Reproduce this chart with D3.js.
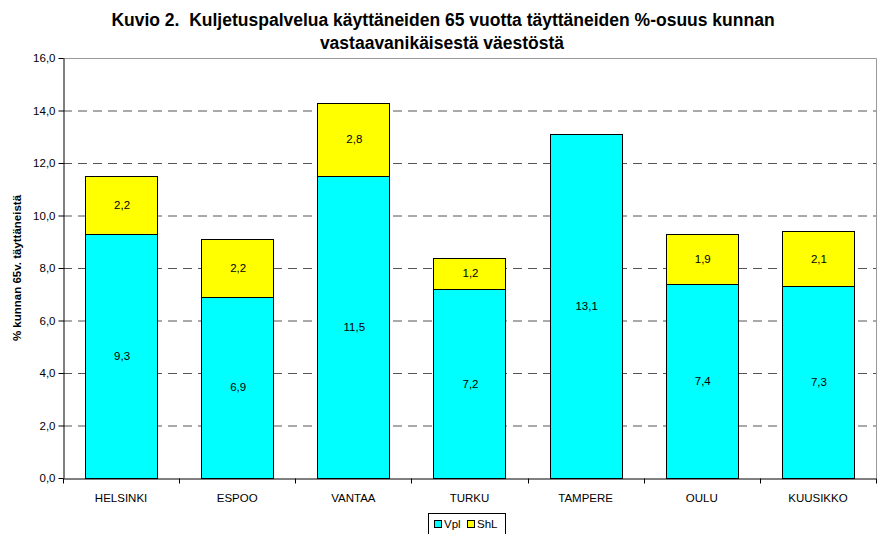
<!DOCTYPE html>
<meta charset="utf-8">
<head>
  <title>Kuvio 2</title>
  <style>
    body { margin: 0; background: #fff; font-family: Arial, "Liberation Sans", sans-serif; }
    svg text { fill: #000; }
  </style>
  <script src="https://d3js.org/d3.v7.min.js"></script>
</head>
<body>
<svg id="chart" width="882" height="534"></svg>
<script>
var cities = ["HELSINKI", "ESPOO", "VANTAA", "TURKU", "TAMPERE", "OULU", "KUUSIKKO"];
var vpl = [9.3, 6.9, 11.5, 7.2, 13.1, 7.4, 7.3];
var shl = [2.2, 2.2, 2.8, 1.2, 0, 1.9, 2.1];
var seriesNames = ["Vpl", "ShL"];
var seriesColors = ["#00ffff", "#ffff00"];
var yTicks = [0, 2, 4, 6, 8, 10, 12, 14, 16];

var svg = d3.select("#chart");
var pLeft = 63, pRight = 876, pTop = 58, pBottom = 478;
var fmt = function(d) { return d.toFixed(1).replace(".", ","); };

var x = d3.scaleBand().domain(cities).range([pLeft, pRight]).paddingInner(0.38).paddingOuter(0.19);
var y = d3.scaleLinear().domain([0, 16]).range([pBottom, pTop]);

// title
svg.append("text").attr("x", 443).attr("y", 26).attr("text-anchor", "middle")
  .style("font-size", "17.5px").style("font-weight", "bold").style("white-space", "pre")
  .text("Kuvio 2.  Kuljetuspalvelua käyttäneiden 65 vuotta täyttäneiden %-osuus kunnan");
svg.append("text").attr("x", 442).attr("y", 49).attr("text-anchor", "middle")
  .style("font-size", "17.5px").style("font-weight", "bold")
  .text("vastaavanikäisestä väestöstä");

// gridlines
svg.append("g").selectAll("line").data(yTicks.filter(function(d) { return d > 0 && d < 16; }))
  .enter().append("line")
  .attr("x1", pLeft).attr("x2", pRight)
  .attr("y1", function(d) { return y(d) + 0.5; }).attr("y2", function(d) { return y(d) + 0.5; })
  .attr("stroke", "#555").attr("stroke-dasharray", "9,6");

// plot border (top and right)
svg.append("path")
  .attr("d", "M" + pLeft + "," + (pTop + 0.5) + "H" + (pRight + 0.5) + "V" + pBottom)
  .attr("fill", "none").attr("stroke", "#999");

// stacked bars
var stacked = d3.stack().keys([0, 1]).value(function(d, k) { return d[k]; })(
  cities.map(function(c, i) { return [vpl[i], shl[i]]; }));

stacked.forEach(function(layer, k) {
  var g = svg.append("g");
  layer.forEach(function(seg, i) {
    if (seg[1] - seg[0] <= 0) return;
    g.append("rect")
      .attr("x", Math.round(x(cities[i])) + 0.5)
      .attr("y", Math.round(y(seg[1])) + 0.5)
      .attr("width", Math.round(x.bandwidth()))
      .attr("height", Math.round(y(seg[0])) - Math.round(y(seg[1])))
      .attr("fill", seriesColors[k]).attr("stroke", "#000").attr("stroke-width", 1);
    g.append("text")
      .attr("x", x(cities[i]) + x.bandwidth() / 2 + 1)
      .attr("y", (y(seg[0]) + y(seg[1])) / 2 + 4)
      .attr("text-anchor", "middle").style("font-size", "11.5px")
      .text(fmt(seg[1] - seg[0]));
  });
});

// y axis
var yAxis = svg.append("g").attr("transform", "translate(" + (pLeft + 0.5) + ",0)")
  .call(d3.axisLeft(y).tickValues(yTicks).tickFormat(fmt).tickSize(5).tickSizeOuter(0));
yAxis.select(".domain").attr("stroke", "#000");
yAxis.selectAll("text").style("font-size", "11.5px").style("font-family", "Arial, 'Liberation Sans', sans-serif").attr("x", -8);

// x axis
var xAxis = svg.append("g").attr("transform", "translate(0," + (pBottom + 0.5) + ")")
  .call(d3.axisBottom(x).tickSize(0).tickSizeOuter(0));
xAxis.select(".domain").attr("stroke", "#000");
xAxis.selectAll("text").attr("dy", null).attr("y", 23)
  .style("font-size", "11.5px").style("font-family", "Arial, 'Liberation Sans', sans-serif");
xAxis.selectAll(".sep").data(d3.range(cities.length + 1)).enter().append("line")
  .attr("x1", function(i) { return Math.round(pLeft + i * (pRight - pLeft) / cities.length) + 0.5; })
  .attr("x2", function(i) { return Math.round(pLeft + i * (pRight - pLeft) / cities.length) + 0.5; })
  .attr("y1", 0).attr("y2", 5).attr("stroke", "#000");

// y label
svg.append("text")
  .attr("transform", "translate(21," + ((pTop + pBottom) / 2) + ") rotate(-90)")
  .attr("text-anchor", "middle").style("font-size", "11.5px").style("font-weight", "bold")
  .text("% kunnan 65v. täyttäneistä");

// legend
var lg = svg.append("g");
lg.append("rect").attr("x", 428.5).attr("y", 513.5).attr("width", 77).attr("height", 21)
  .attr("fill", "#fff").attr("stroke", "#000");
seriesNames.forEach(function(n, k) {
  var lx = 434 + k * 33;
  lg.append("rect").attr("x", lx + 0.5).attr("y", 520.5).attr("width", 7).attr("height", 7)
    .attr("fill", seriesColors[k]).attr("stroke", "#000");
  lg.append("text").attr("x", lx + 10).attr("y", 528).style("font-size", "11.5px").text(n);
});
</script>
</body>
</html>
